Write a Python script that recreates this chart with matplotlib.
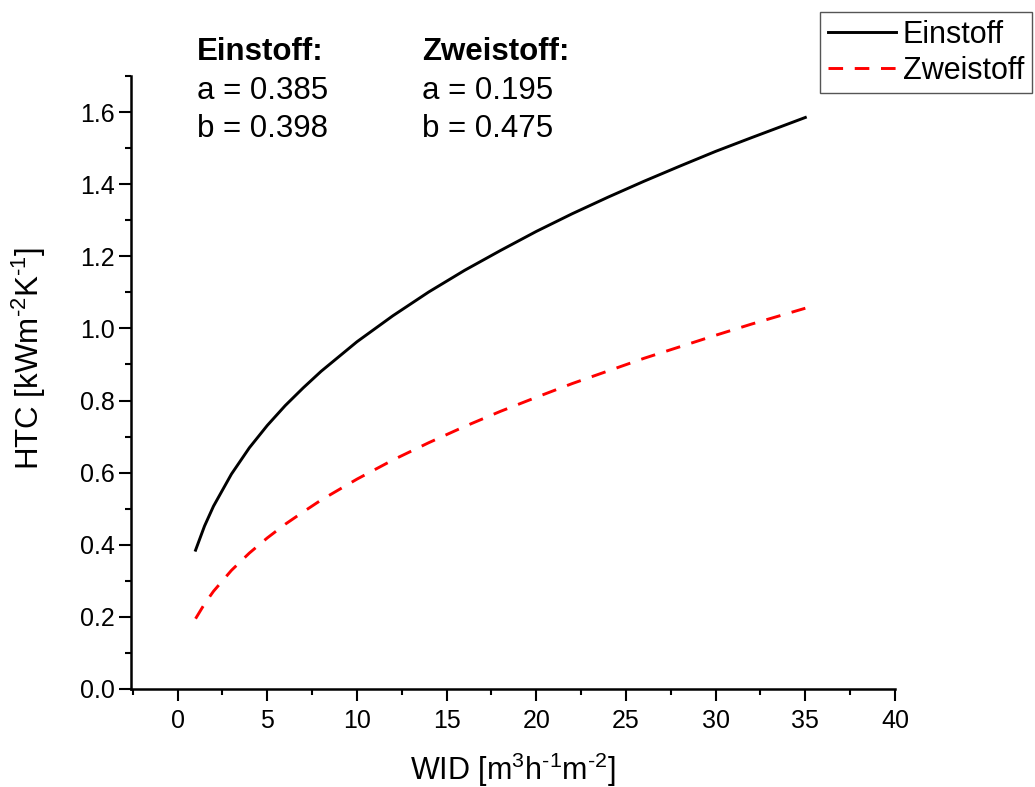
# HTC vs WID - Einstoff / Zweistoff fits
import numpy as np
import matplotlib
matplotlib.use("Agg")
import matplotlib.pyplot as plt
from matplotlib.ticker import MultipleLocator

plt.rcParams['font.family'] = ['Liberation Sans', 'DejaVu Sans']
plt.rcParams['mathtext.fontset'] = 'custom'
plt.rcParams['mathtext.rm'] = 'Liberation Sans'
plt.rcParams['mathtext.it'] = 'Liberation Sans:italic'
plt.rcParams['mathtext.bf'] = 'Liberation Sans:bold'

# values
wid = [1, 1.5, 2, 3, 4, 5, 6, 7, 8, 10, 12, 14, 16, 18, 20, 22, 24, 26, 28, 30, 32, 35]
htc_einstoff = [0.385, 0.452, 0.507, 0.596, 0.669, 0.731, 0.786, 0.835, 0.881, 0.963,
                1.035, 1.101, 1.161, 1.216, 1.269, 1.318, 1.364, 1.408, 1.450, 1.491,
                1.529, 1.585]
htc_zweistoff = [0.195, 0.236, 0.271, 0.329, 0.377, 0.419, 0.457, 0.491, 0.524, 0.582,
                 0.635, 0.683, 0.728, 0.770, 0.809, 0.847, 0.882, 0.917, 0.949, 0.981,
                 1.012, 1.056]

fit_names = ["Einstoff:", "Zweistoff:"]
fit_a = ["0.385", "0.195"]
fit_b = ["0.398", "0.475"]

W, H = 1035, 787
fig = plt.figure(figsize=(W / 100, H / 100), dpi=100)
ax = fig.add_axes([131 / W, 1 - 689 / H, (895 - 131) / W, (689 - 76) / H])

ax.plot(wid, htc_einstoff, color='black', lw=2.1, label='Einstoff')
ax.plot(wid, htc_zweistoff, color='red', lw=2.1, dashes=(5, 4), label='Zweistoff')

ax.set_xlim(-2.6, 40)
ax.set_ylim(0, 1.7)
ax.xaxis.set_minor_locator(MultipleLocator(2.5))
ax.yaxis.set_minor_locator(MultipleLocator(0.1))
ax.set_xticks(np.arange(0, 41, 5))
ax.set_yticks(np.arange(0, 1.61, 0.2))
ax.yaxis.set_major_formatter(plt.FormatStrFormatter('%.1f'))

for side in ['top', 'right']:
    ax.spines[side].set_visible(False)
for side in ['left', 'bottom']:
    ax.spines[side].set_linewidth(1.8)
ax.tick_params(which='major', direction='out', length=8.5, width=1.5, labelsize=18)
ax.tick_params(which='minor', direction='out', length=4, width=1.5)
ax.tick_params(axis='x', pad=6)
ax.tick_params(axis='y', pad=3)

ax.set_xlabel(r'WID [m$^{\text{3}}$h$^{\text{-1}}$m$^{\text{-2}}$]', fontsize=22)
ax.set_ylabel(r'HTC [kWm$^{\text{-2}}$K$^{\text{-1}}$]', fontsize=22.5)
ax.xaxis.set_label_coords(0.5, -0.1)
ax.yaxis.set_label_coords(-0.108, 0.54)

# fit parameter text
xs = [197, 422]
for i in range(2):
    fig.text(xs[i] / W, 1 - 60 / H, fit_names[i], fontsize=22.5, fontweight='bold')
    fig.text(xs[i] / W, 1 - 99 / H, 'a = ' + fit_a[i], fontsize=22.5)
    fig.text(xs[i] / W, 1 - 137 / H, 'b = ' + fit_b[i], fontsize=22.5)

leg = fig.legend(loc='upper left', bbox_to_anchor=(820 / W, 1 - 12 / H), borderaxespad=0,
                 fontsize=22, handlelength=2.25, handletextpad=0.2, labelspacing=0.2,
                 borderpad=0.25, fancybox=False, framealpha=1, edgecolor='#555555')
leg.get_frame().set_linewidth(1.0)

fig.savefig('out.png', dpi=100)
